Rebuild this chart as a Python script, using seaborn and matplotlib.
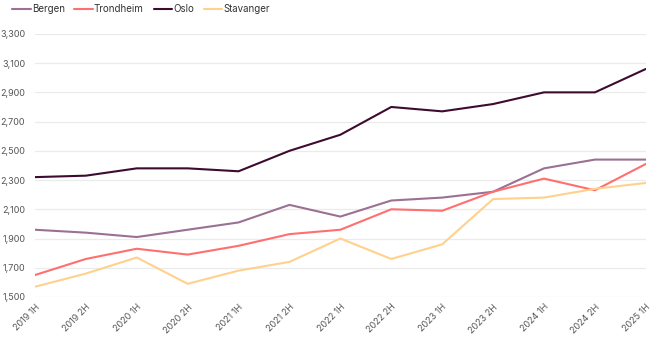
import matplotlib
matplotlib.use("Agg")
import matplotlib.pyplot as plt
import seaborn as sns
import pandas as pd
from matplotlib.ticker import FuncFormatter

periods = ["2019 1H", "2019 2H", "2020 1H", "2020 2H", "2021 1H", "2021 2H",
           "2022 1H", "2022 2H", "2023 1H", "2023 2H", "2024 1H", "2024 2H", "2025 1H"]
bergen = [1960, 1940, 1910, 1960, 2010, 2130, 2050, 2160, 2180, 2220, 2380, 2440, 2440]
trondheim = [1650, 1760, 1830, 1790, 1850, 1930, 1960, 2100, 2090, 2220, 2310, 2230, 2410]
oslo = [2320, 2330, 2380, 2380, 2360, 2500, 2610, 2800, 2770, 2820, 2900, 2900, 3060]
stavanger = [1570, 1660, 1770, 1590, 1680, 1740, 1900, 1760, 1860, 2170, 2180, 2240, 2280]
cities = ["Bergen", "Trondheim", "Oslo", "Stavanger"]
colors = ["#9a7193", "#ff6f6f", "#3d0b2f", "#ffd18c"]
yticks = list(range(1500, 3301, 200))

series = dict(zip(cities, [bergen, trondheim, oslo, stavanger]))
rows = []
for c in cities:
    for i, (p, v) in enumerate(zip(periods, series[c])):
        rows.append({"idx": i, "period": p, "city": c, "value": v})
df = pd.DataFrame(rows)

sns.set_style("white")
plt.rcParams["font.family"] = ["Inter", "DejaVu Sans"]

fig = plt.figure(figsize=(6.59, 3.39), dpi=100)
ax = fig.add_axes([0.053, 0.124, 0.927, 0.776])
sns.lineplot(data=df, x="idx", y="value", hue="city", hue_order=cities,
             palette=dict(zip(cities, colors)), linewidth=1.5, ax=ax, legend=True)

ax.set_xlim(0, len(periods) - 1)
ax.set_ylim(1500, 3300)
ax.set_yticks(yticks)
ax.yaxis.set_major_formatter(FuncFormatter(lambda v, p: f"{int(v):,}"))
ax.set_xticks(range(len(periods)))
ax.set_xticklabels(periods, rotation=45, ha="right", rotation_mode="anchor")
ax.tick_params(axis="both", length=0, labelsize=6.5, labelcolor="#555555")
ax.tick_params(axis="y", pad=7)
ax.tick_params(axis="x", pad=4)
ax.grid(axis="y", color="#ebebeb", linewidth=0.9)
ax.set_axisbelow(True)
for s in ax.spines.values():
    s.set_visible(False)
ax.set_xlabel("")
ax.set_ylabel("")

leg = ax.legend(loc="lower left", bbox_to_anchor=(-0.037, 1.075), ncol=4, frameon=False,
                fontsize=7, handlelength=1.9, handletextpad=0.1, columnspacing=1.0,
                borderaxespad=0, borderpad=0)
for t in leg.get_texts():
    t.set_color("#333333")

fig.savefig("out.png", dpi=100)
